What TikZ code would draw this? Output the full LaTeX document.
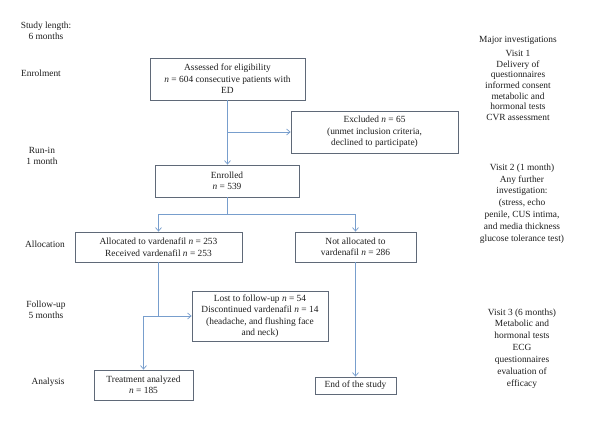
\documentclass[tikz,border=0pt]{standalone}
\usepackage{fontspec}
\setmainfont{Liberation Serif}
\usetikzlibrary{arrows.meta}
\definecolor{boxcol}{RGB}{95,105,120}
\definecolor{linecol}{RGB}{120,158,205}
\definecolor{txtcol}{RGB}{30,30,30}
\begin{document}
\begin{tikzpicture}[x=1pt,y=-1pt,
  every node/.style={font=\fontsize{9.4}{11.5}\selectfont, text=txtcol, inner sep=0pt},
  box/.style={draw=boxcol, line width=0.8pt, align=center},
  lbl/.style={align=center},
  conn/.style={draw=linecol, line width=0.7pt},
  arr/.style={conn, -{Straight Barb[length=3.5pt,width=6pt]}}]
\useasboundingbox (0,0) rectangle (600,421);
\fill[white] (0,0) rectangle (600,421);
% left labels
\node[lbl] (study) at (46,31) {Study length:\\6 months};
\node[lbl] (enrl) at (41,73) {Enrolment};
\node[lbl] (runin) at (42,156) {Run-in\\1 month};
\node[lbl] (allc) at (45,244) {Allocation};
\node[lbl] (follow) at (46,310) {Follow-up\\5 months};
\node[lbl] (anal) at (48,382) {Analysis};
% right column
\node[lbl] (major) at (518,40) {Major investigations};
\node[lbl, font=\fontsize{9.4}{10.6}\selectfont] (v1) at (518,85.5) {Visit 1\\Delivery of\\questionnaires\\informed consent\\metabolic and\\hormonal tests\\CVR assessment};
\node[lbl, font=\fontsize{9.4}{11.8}\selectfont] (v2) at (522,203.5) {Visit 2 (1 month)\\Any further\\investigation:\\(stress, echo\\penile, CUS intima,\\and media thickness\\glucose tolerance test)};
\node[lbl, font=\fontsize{9.4}{11.9}\selectfont] (v3) at (522,348.5) {Visit 3 (6 months)\\Metabolic and\\hormonal tests\\ECG\\questionnaires\\evaluation of\\efficacy};
% boxes
\node[box, minimum width=155, minimum height=42] (assess) at (227.5,79) {Assessed for eligibility\\\textit{n} = 604 consecutive patients with\\ED};
\node[box, minimum width=167, minimum height=42] (excl) at (374.5,132) {Excluded \textit{n} = 65\\(unmet inclusion criteria,\\declined to participate)};
\node[box, minimum width=144, minimum height=32] (enrol) at (227,181) {Enrolled\\\textit{n} = 539};
\node[box, minimum width=167, minimum height=30] (alloc) at (158.5,247) {Allocated to vardenafil \textit{n} = 253\\Received vardenafil \textit{n} = 253};
\node[box, minimum width=121, minimum height=30] (notalloc) at (355.5,247) {Not allocated to\\vardenafil \textit{n} = 286};
\node[box, minimum width=136, minimum height=50] (lost) at (260,316) {Lost to follow-up \textit{n} = 54\\Discontinued vardenafil \textit{n} = 14\\(headache, and flushing face\\and neck)};
\node[box, minimum width=99, minimum height=30] (treat) at (143.5,385) {Treatment analyzed\\\textit{n} = 185};
\node[box, minimum width=81, minimum height=17] (endst) at (355.5,385.5) {End of the study};
% connectors
\draw[arr] (assess.south) -- (assess.south |- enrol.north);
\coordinate (exbr) at (assess.south |- excl.west);
\draw[arr] (exbr) -- (excl.west);
\coordinate (split) at (227,214);
\draw[conn] (enrol.south) -- (split);
\draw[arr] (split) -| (alloc.north);
\draw[arr] (split) -| (notalloc.north);
\coordinate (fu) at (alloc.south |- lost.west);
\draw[conn] (alloc.south) -- (fu);
\coordinate (fuleft) at (treat.north |- lost.west);
\draw[arr] (fuleft) -- (lost.west);
\draw[arr] (fuleft) -- (treat.north);
\draw[arr] (notalloc.south) -- (endst.north);
\end{tikzpicture}
\end{document}
